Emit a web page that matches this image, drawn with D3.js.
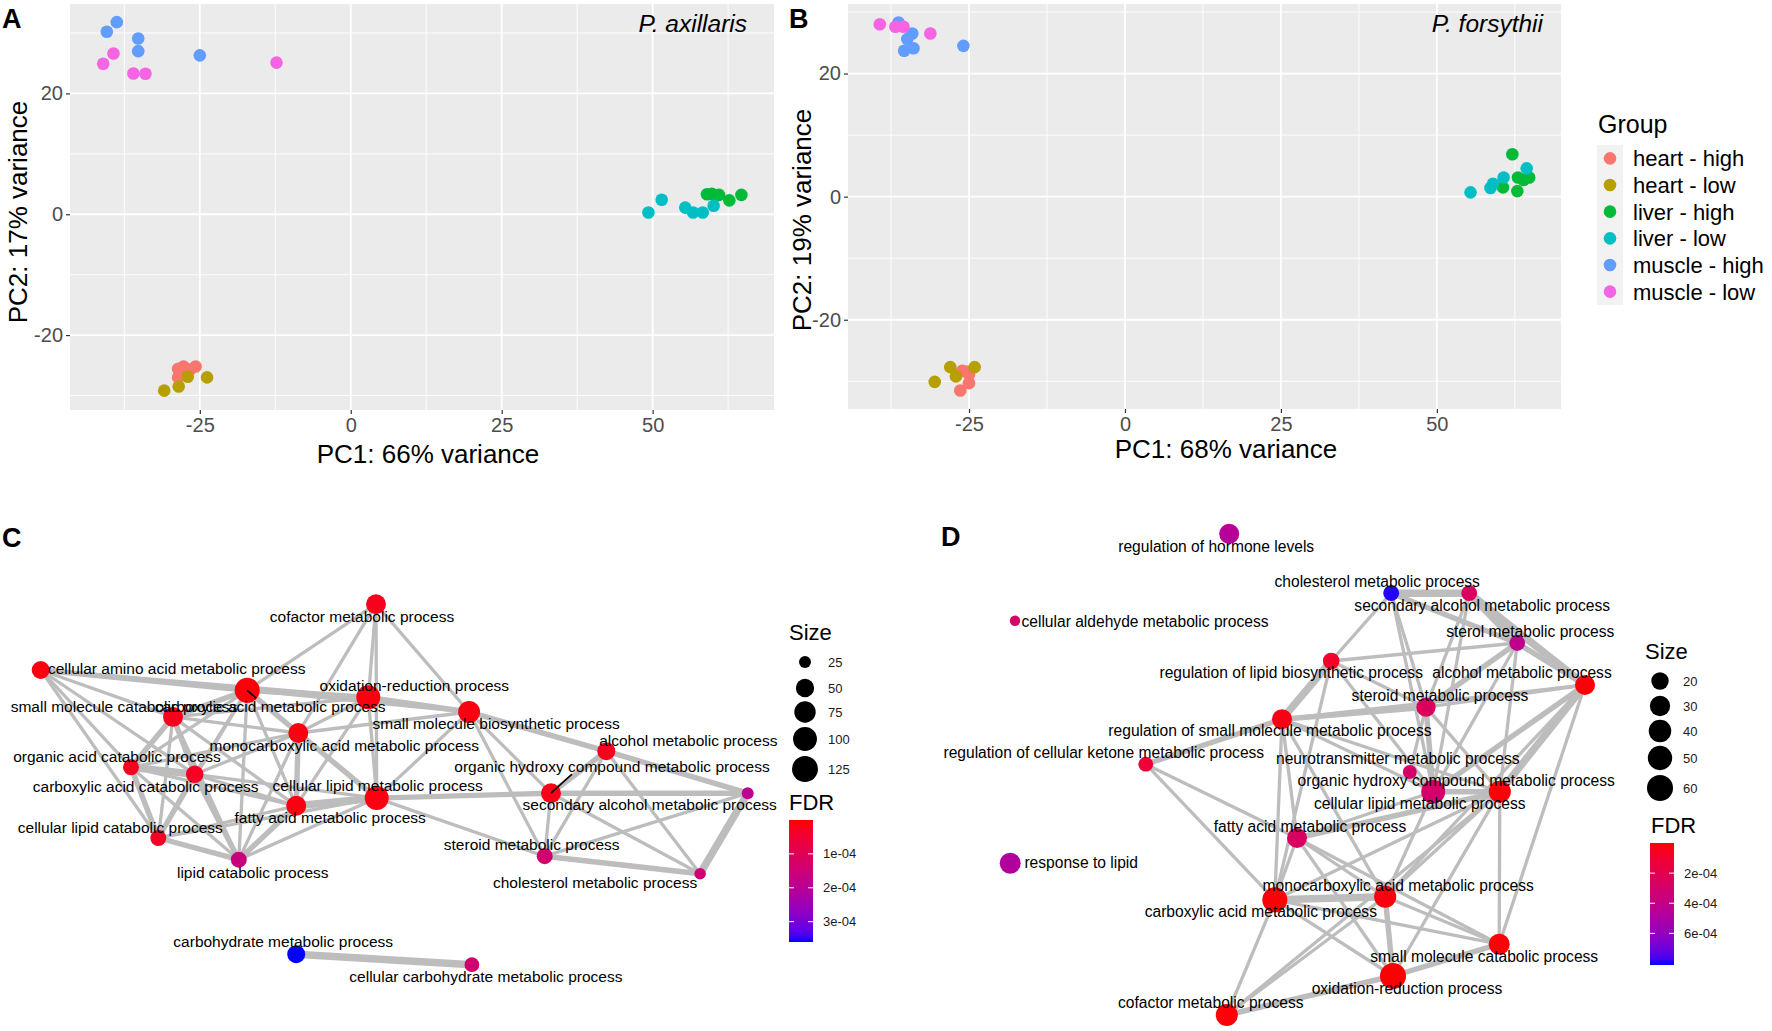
<!DOCTYPE html>
<html><head><meta charset="utf-8">
<script src="https://cdn.jsdelivr.net/npm/d3@7"></script>
<style>
html,body{margin:0;padding:0;background:#fff;}
svg text{font-family:"Liberation Sans",Arial,sans-serif;}
</style></head>
<body>
<svg id="fig" width="1772" height="1031"></svg>
<script>
// ---------------- DATA ----------------
const groups = ["heart - high","heart - low","liver - high","liver - low","muscle - high","muscle - low"];
const groupColors = ["#F8766D","#B79F00","#00BA38","#00BFC4","#619CFF","#F564E3"];

// [PC1, PC2, group index]
const axillarisPoints = [
  [-28.6,-25.6,0],[-27.7,-25.2,0],[-25.7,-25.2,0],[-28.6,-27.0,0],[-28.1,-26.2,0],[-26.6,-25.7,0],
  [-30.9,-29.2,1],[-28.5,-28.5,1],[-27.0,-26.9,1],[-23.8,-27.0,1],
  [59.0,3.3,2],[59.8,3.4,2],[61.0,3.2,2],[62.7,2.3,2],[64.7,3.2,2],[60.5,3.1,2],
  [49.3,0.3,3],[51.5,2.4,3],[55.4,1.1,3],[56.7,0.3,3],[58.3,0.3,3],[60.1,1.4,3],
  [-40.4,30.2,4],[-38.75,31.8,4],[-35.2,29.1,4],[-35.2,27.0,4],[-25.0,26.3,4],
  [-41.0,24.9,5],[-39.3,26.6,5],[-36.0,23.3,5],[-34.0,23.25,5],[-12.3,25.1,5]
];
const forsythiiPoints = [
  [-26.1,-28.3,0],[-25.0,-28.9,0],[-26.4,-31.5,0],[-25.0,-30.3,0],[-25.4,-28.4,0],
  [-28.0,-27.7,1],[-24.1,-27.7,1],[-30.5,-30.1,1],[-27.1,-29.2,1],
  [62.1,6.9,2],[63.0,3.1,2],[63.9,2.7,2],[64.8,3.1,2],[60.6,1.5,2],[62.9,0.9,2],
  [55.4,0.7,3],[58.6,1.4,3],[59.0,2.1,3],[60.7,3.1,3],[64.4,4.6,3],
  [-36.3,28.3,4],[-34.1,26.5,4],[-34.9,25.6,4],[-35.4,23.7,4],[-33.9,24.1,4],[-25.9,24.5,4],
  [-39.3,28.0,5],[-36.8,27.6,5],[-35.5,27.6,5],[-31.2,26.5,5]
];
const pcaXTicks = [-25,0,25,50];
const pcaXMinor = [-37.5,-12.5,12.5,37.5,62.5];
const pcaYTicks = [-20,0,20];
const pcaYMinor = [-30,-10,10,30];

// Network C: id, name, layout x, layout y, gene count (Size), FDR
const netCNodes = [
  ["CF","cofactor metabolic process",48.0,0.6,62,0.2e-4],
  ["AA","cellular amino acid metabolic process",0.1,10.0,48,0.1e-4],
  ["CAM","carboxylic acid metabolic process",29.6,12.9,113,0.05e-4],
  ["OR","oxidation-reduction process",46.9,13.9,101,0.1e-4],
  ["SMC","small molecule catabolic process",19.0,16.7,62,0.2e-4],
  ["MC","monocarboxylic acid metabolic process",36.9,19.0,62,0.1e-4],
  ["OAC","organic acid catabolic process",13.0,23.9,37,0.2e-4],
  ["CAC","carboxylic acid catabolic process",22.1,24.9,45,0.3e-4],
  ["CLM","cellular lipid metabolic process",48.1,28.3,101,0.1e-4],
  ["FA","fatty acid metabolic process",36.6,29.4,62,0.1e-4],
  ["CLC","cellular lipid catabolic process",16.9,34.0,37,0.3e-4],
  ["LC","lipid catabolic process",28.4,37.1,37,1.6e-4],
  ["SMB","small molecule biosynthetic process",61.3,16.0,80,0.1e-4],
  ["AL","alcohol metabolic process",80.9,21.6,48,0.2e-4],
  ["OH","organic hydroxy compound metabolic process",73.0,27.6,62,0.15e-4],
  ["SA","secondary alcohol metabolic process",101.1,27.6,25,1.9e-4],
  ["ST","steroid metabolic process",72.1,36.6,37,1.4e-4],
  ["CH","cholesterol metabolic process",94.3,39.1,24.5,1.5e-4],
  ["CBH","carbohydrate metabolic process",36.6,50.6,48,3.6e-4],
  ["CCBH","cellular carbohydrate metabolic process",61.7,52.1,32,1.4e-4]
];
// [source, target, similarity weight]
const netCEdges = [
  ["CF","CAM",1],["CF","MC",1],["CF","OR",1],["CF","CLM",1],["CF","SMB",1],
  ["AA","CAM",2],["AA","OR",1],["AA","SMC",1],["AA","OAC",1],["AA","CAC",1],["AA","CLC",1],
  ["CAM","SMC",2],["CAM","MC",2],["CAM","OAC",1],["CAM","CAC",1],["CAM","CLM",1],["CAM","FA",1],["CAM","CLC",1],["CAM","LC",1],["CAM","OR",2],["CAM","SMB",1],
  ["OR","MC",1],["OR","SMB",2],["OR","CLM",1],["OR","FA",1],["OR","SMC",1],
  ["SMC","OAC",2],["SMC","CAC",2],["SMC","CLC",1],["SMC","LC",1],["SMC","MC",1],["SMC","FA",1],
  ["MC","FA",2],["MC","CLM",2],["MC","OAC",1],["MC","CAC",1],["MC","SMB",1],["MC","LC",1],
  ["OAC","CAC",3],["OAC","CLC",2],["OAC","LC",1],["OAC","FA",1],
  ["CAC","CLC",2],["CAC","LC",2],["CAC","FA",1],["CAC","CLM",1],
  ["CLM","FA",3],["CLM","LC",1],["CLM","CLC",1],["CLM","SMB",1],["CLM","OH",2],["CLM","ST",1],
  ["FA","LC",2],["FA","CLC",1],["CLC","LC",2],
  ["SMB","AL",2],["SMB","OH",1],["SMB","ST",1],
  ["AL","OH",2],["AL","SA",2],["AL","ST",1],["AL","CH",1],
  ["OH","SA",2],["OH","ST",1],["OH","CH",1],
  ["SA","CH",3],["SA","ST",1],["ST","CH",2],
  ["CBH","CCBH",3]
];
const sizeBreaksC = [25,50,75,100,125];
const fdrTicksC = [1e-4,2e-4,3e-4];

// Network D
const netDNodes = [
  ["HOR","regulation of hormone levels",38.2,2.3,29,4.6e-4],
  ["CH","cholesterol metabolic process",65.2,12.2,16,8.0e-4],
  ["SA","secondary alcohol metabolic process",78.2,12.2,16,2.6e-4],
  ["ALD","cellular aldehyde metabolic process",2.5,16.8,10,2.8e-4],
  ["SL","sterol metabolic process",86.2,20.5,16,4.2e-4],
  ["RLB","regulation of lipid biosynthetic process",55.2,23.5,18,0.8e-4],
  ["AL","alcohol metabolic process",97.5,27.5,29,0.1e-4],
  ["ST","steroid metabolic process",71.0,31.2,26,2.5e-4],
  ["RSM","regulation of small molecule metabolic process",47.0,33.2,29,0.3e-4],
  ["RCK","regulation of cellular ketone metabolic process",24.3,40.7,14,1.2e-4],
  ["NT","neurotransmitter metabolic process",68.3,42.0,12.6,3.0e-4],
  ["OH","organic hydroxy compound metabolic process",72.2,45.3,48,3.0e-4],
  ["CLM","cellular lipid metabolic process",83.3,45.3,38,0.1e-4],
  ["FA","fatty acid metabolic process",49.5,53.0,29,2.6e-4],
  ["RL","response to lipid",1.7,57.2,33,4.8e-4],
  ["MC","monocarboxylic acid metabolic process",64.2,62.8,38,0.2e-4],
  ["CAM","carboxylic acid metabolic process",45.8,63.3,54,0.1e-4],
  ["SMC","small molecule catabolic process",83.2,70.7,33,0.1e-4],
  ["OR","oxidation-reduction process",65.5,76.0,60,0.05e-4],
  ["CF","cofactor metabolic process",37.8,82.5,38,0.1e-4]
];
const netDEdges = [
  ["CH","SA",3],["CH","SL",2],["SA","SL",3],["SA","AL",3],["SL","AL",2],["CH","ST",1],["SA","ST",1],["SL","ST",2],
  ["SL","OH",1],["SL","CLM",1],["CH","RLB",1],["CH","OH",1],["SA","OH",1],
  ["RLB","RSM",3],["RLB","ST",1],["RLB","SL",1],["RLB","CAM",1],["RLB","OH",1],
  ["RSM","RCK",2],["RSM","ST",2],["RSM","CLM",1],["RSM","OH",1],["RSM","CAM",1],["RSM","MC",1],["RSM","FA",1],["RSM","AL",1],
  ["RCK","CAM",1],["RCK","FA",1],
  ["AL","OH",2],["AL","CLM",3],["AL","ST",1],["AL","SMC",1],["AL","MC",1],
  ["ST","OH",2],["ST","CLM",1],["ST","NT",1],["NT","OH",1],
  ["OH","CLM",2],["OH","FA",1],["OH","MC",1],
  ["CLM","FA",2],["CLM","MC",1],["CLM","CAM",1],["CLM","SMC",1],["CLM","OR",1],
  ["FA","MC",1],["FA","CAM",1],["FA","SMC",1],["FA","OR",1],
  ["MC","CAM",3],["MC","SMC",1],["MC","OR",2],
  ["CAM","SMC",1],["CAM","OR",1],["CAM","CF",1],
  ["SMC","OR",2],["OR","CF",2],["CF","MC",1],["CF","CLM",1]
];
const sizeBreaksD = [20,30,40,50,60];
const fdrTicksD = [2e-4,4e-4,6e-4];

// ---------------- LAYOUT / STYLE CONFIG ----------------
// label placement (repel result) relative to node centre: [dx, dy(baseline)]
const labelOffC = {CF:[-14,18],AA:[136,4],CAM:[23,22],OR:[46,-6],SMC:[-49,-5],MC:[46,18],OAC:[-14,-5],CAC:[-49,18],
  CLM:[1,-7],FA:[34,17],CLC:[-38,-5],LC:[14,18],SMB:[27,17],AL:[82,-5],OH:[61,-21],SA:[-98,17],ST:[-13,-6],CH:[-105,14],CBH:[-13,-7],CCBH:[14,17]};
const segC = {CAM:[9,8], OH:[21,-19]};
const labelOffD = {HOR:[-13,18],CH:[-14,-6],SA:[13,18],ALD:[130,6],SL:[13,-6],RLB:[-40,17],AL:[-63,-7],ST:[14,-6],RSM:[-12,17],
  RCK:[-42,-6],NT:[-12,-8],OH:[23,-6],CLM:[-80,17],FA:[13,-6],RL:[71,5],MC:[13,-6],CAM:[-14,17],SMC:[-15,18],OR:[14,18],CF:[-16,-7]};

const svg = d3.select("#fig");
const FONT = '"Liberation Sans",Arial,sans-serif';
const plainNum = d => String(d);

// ---------------- PCA PANELS ----------------
function pcaPanel(points, cfg){
  const x = d3.scaleLinear().domain(cfg.xDomain).range([cfg.left, cfg.right]);
  const y = d3.scaleLinear().domain(cfg.yDomain).range([cfg.bottom, cfg.top]);
  const g = svg.append("g");
  g.append("rect").attr("x",cfg.left).attr("y",cfg.top).attr("width",cfg.right-cfg.left).attr("height",cfg.bottom-cfg.top).attr("fill","#EBEBEB");
  g.selectAll(".vminor").data(pcaXMinor).join("line").attr("x1",d=>x(d)).attr("x2",d=>x(d)).attr("y1",cfg.top).attr("y2",cfg.bottom).attr("stroke","#fff").attr("stroke-width",0.9);
  g.selectAll(".hminor").data(pcaYMinor).join("line").attr("y1",d=>y(d)).attr("y2",d=>y(d)).attr("x1",cfg.left).attr("x2",cfg.right).attr("stroke","#fff").attr("stroke-width",0.9);
  g.selectAll(".vmajor").data(pcaXTicks).join("line").attr("x1",d=>x(d)).attr("x2",d=>x(d)).attr("y1",cfg.top).attr("y2",cfg.bottom).attr("stroke","#fff").attr("stroke-width",1.8);
  g.selectAll(".hmajor").data(pcaYTicks).join("line").attr("y1",d=>y(d)).attr("y2",d=>y(d)).attr("x1",cfg.left).attr("x2",cfg.right).attr("stroke","#fff").attr("stroke-width",1.8);
  g.selectAll("circle.pt").data(points).join("circle").attr("class","pt")
    .attr("cx",d=>x(d[0])).attr("cy",d=>y(d[1])).attr("r",6.3).attr("fill",d=>groupColors[d[2]]);
  const ax = g.append("g").attr("transform",`translate(0,${cfg.bottom})`)
    .call(d3.axisBottom(x).tickValues(pcaXTicks).tickSize(4).tickPadding(4).tickFormat(plainNum));
  const ay = g.append("g").attr("transform",`translate(${cfg.left},0)`)
    .call(d3.axisLeft(y).tickValues(pcaYTicks).tickSize(4).tickPadding(3).tickFormat(plainNum));
  [ax,ay].forEach(a=>{
    a.select(".domain").remove();
    a.selectAll("line").attr("stroke","#333").attr("stroke-width",1.2);
    a.selectAll("text").attr("fill","#4D4D4D").style("font-size","20px").style("font-family",FONT);
  });
  g.append("text").attr("x",cfg.xTitleX).attr("y",cfg.xTitleY).attr("text-anchor","middle").style("font-size","26px").attr("fill","#000").text(cfg.xTitle);
  g.append("text").attr("transform",`translate(${cfg.yTitleX},${cfg.yTitleY}) rotate(-90)`).attr("text-anchor","middle").style("font-size","26px").attr("fill","#000").text(cfg.yTitle);
  g.append("text").attr("x",cfg.right-cfg.spRight).attr("y",32).attr("text-anchor","end").style("font-size","24.5px").style("font-style","italic").attr("fill","#000").text(cfg.species);
  svg.append("text").attr("x",cfg.tagX).attr("y",28).style("font-size","27px").style("font-weight","bold").text(cfg.tag);
}
pcaPanel(axillarisPoints,{xDomain:[-46.5,70.1],yDomain:[-32.4,34.8],left:70,right:774,top:4,bottom:410,
  xTitle:"PC1: 66% variance",xTitleX:428,xTitleY:463,yTitle:"PC2: 17% variance",yTitleX:27,yTitleY:212,
  species:"P. axillaris",spRight:27,tag:"A",tagX:2});
pcaPanel(forsythiiPoints,{xDomain:[-44.4,69.9],yDomain:[-34.5,31.3],left:848,right:1561,top:4,bottom:409,
  xTitle:"PC1: 68% variance",xTitleX:1226,xTitleY:458,yTitle:"PC2: 19% variance",yTitleX:811,yTitleY:220,
  species:"P. forsythii",spRight:18,tag:"B",tagX:789});

// Group legend
(function(){
  const g = svg.append("g");
  g.append("text").attr("x",1598).attr("y",133).style("font-size","25px").text("Group");
  const ky = d3.scaleBand().domain(groups).range([145,305]);
  g.append("rect").attr("x",1597).attr("y",145).attr("width",26).attr("height",160).attr("fill","#F2F2F2");
  g.selectAll("circle").data(groups).join("circle").attr("cx",1610).attr("cy",d=>ky(d)+ky.bandwidth()/2).attr("r",6.3).attr("fill",(d,i)=>groupColors[i]);
  g.selectAll("text.lab").data(groups).join("text").attr("class","lab").attr("x",1633).attr("y",d=>ky(d)+ky.bandwidth()/2+8).style("font-size","22px").text(d=>d);
})();

// ---------------- NETWORKS ----------------
function network(nodes, edges, cfg){
  const x = d3.scaleLinear().domain([0,100]).range(cfg.xRange);
  const y = d3.scaleLinear().domain([0,100]).range(cfg.yRange);
  const lin = d3.scaleLinear().domain(cfg.sizeDomain).range([0,1]).clamp(true);
  const rOut = d3.scaleLinear().domain([0,1]).range(cfg.rRange);
  const rScale = v => rOut(Math.sqrt(lin(v)));
  const col = d3.scaleLinear().domain(cfg.fdrDomain).range(["#FF0000","#0000FF"]).interpolate(d3.interpolateLab).clamp(true);
  const w = d3.scaleLinear().domain([1,3]).range([3.3,7.5]);
  const byId = {}; nodes.forEach(n=>byId[n[0]]=n);
  const g = svg.append("g");
  g.selectAll("line.edge").data(edges).join("line").attr("class","edge")
    .attr("x1",d=>x(byId[d[0]][2])).attr("y1",d=>y(byId[d[0]][3]))
    .attr("x2",d=>x(byId[d[1]][2])).attr("y2",d=>y(byId[d[1]][3]))
    .attr("stroke","#BDBDBD").attr("stroke-width",d=>w(d[2]));
  g.selectAll("circle.node").data(nodes).join("circle").attr("class","node")
    .attr("cx",d=>x(d[2])).attr("cy",d=>y(d[3])).attr("r",d=>rScale(d[4])).attr("fill",d=>col(d[5]));
  Object.entries(cfg.seg||{}).forEach(([id,o])=>{
    const n=byId[id];
    g.append("line").attr("x1",x(n[2])).attr("y1",y(n[3])).attr("x2",x(n[2])+o[0]).attr("y2",y(n[3])+o[1]).attr("stroke","#000").attr("stroke-width",1.6);
  });
  g.selectAll("text.lab").data(nodes).join("text").attr("class","lab")
    .attr("x",d=>x(d[2])+cfg.labelOff[d[0]][0]).attr("y",d=>y(d[3])+cfg.labelOff[d[0]][1])
    .attr("text-anchor","middle").style("font-size",cfg.fontSize).attr("fill","#000").text(d=>d[1]);

  // Size legend
  const L = cfg.legend;
  g.append("text").attr("x",L.sizeTitleX).attr("y",L.sizeTitleY).style("font-size","22px").text("Size");
  g.selectAll("circle.leg").data(cfg.sizeBreaks).join("circle").attr("class","leg")
    .attr("cx",L.circX).attr("cy",(d,i)=>L.circY[i]).attr("r",d=>rScale(d)).attr("fill","#000");
  g.selectAll("text.legl").data(cfg.sizeBreaks).join("text").attr("class","legl")
    .attr("x",L.labX).attr("y",(d,i)=>L.circY[i]+4.5).style("font-size","13px").attr("fill","#1A1A1A").text(d=>d);
  // FDR colorbar
  g.append("text").attr("x",L.fdrTitleX).attr("y",L.fdrTitleY).style("font-size","22px").text("FDR");
  const gid = "grad"+cfg.id;
  const grad = svg.append("defs").append("linearGradient").attr("id",gid).attr("x1",0).attr("x2",0).attr("y1",0).attr("y2",1);
  d3.range(0,1.0001,0.05).forEach(t=>{
    grad.append("stop").attr("offset",t).attr("stop-color",col(cfg.fdrDomain[0]+t*(cfg.fdrDomain[1]-cfg.fdrDomain[0])));
  });
  const by = d3.scaleLinear().domain(cfg.fdrDomain).range([L.barTop,L.barBottom]);
  g.append("rect").attr("x",L.barX).attr("y",L.barTop).attr("width",24).attr("height",L.barBottom-L.barTop).attr("fill",`url(#${gid})`);
  cfg.fdrTicks.forEach(t=>{
    g.append("line").attr("x1",L.barX).attr("x2",L.barX+5).attr("y1",by(t)).attr("y2",by(t)).attr("stroke","#fff").attr("stroke-width",1);
    g.append("line").attr("x1",L.barX+19).attr("x2",L.barX+24).attr("y1",by(t)).attr("y2",by(t)).attr("stroke","#fff").attr("stroke-width",1);
    g.append("text").attr("x",L.barX+34).attr("y",by(t)+4.5).style("font-size","13px").attr("fill","#1A1A1A")
      .text(t.toExponential(0).replace(/e([+-])(\d)$/,"e$10$2"));
  });
  svg.append("text").attr("x",cfg.tagX).attr("y",cfg.tagY).style("font-size","27px").style("font-weight","bold").text(cfg.tag);
}

network(netCNodes, netCEdges, {id:"C", xRange:[40,740], yRange:[600,1300], sizeDomain:[24,130], rRange:[5.2,13.16],
  fdrDomain:[0,3.6e-4], labelOff:labelOffC, seg:segC, fontSize:"15.5px", sizeBreaks:sizeBreaksC, fdrTicks:fdrTicksC,
  tag:"C", tagX:2, tagY:547,
  legend:{sizeTitleX:789,sizeTitleY:640,circX:805,circY:[662,688,712,739,769],labX:828,fdrTitleX:789,fdrTitleY:810,barX:789,barTop:820,barBottom:942}});

network(netDNodes, netDEdges, {id:"D", xRange:[1000,1600], yRange:[520,1120], sizeDomain:[10,65], rRange:[5.2,13.4],
  fdrDomain:[0,8.1e-4], labelOff:labelOffD, fontSize:"15.6px", sizeBreaks:sizeBreaksD, fdrTicks:fdrTicksD,
  tag:"D", tagX:941, tagY:546,
  legend:{sizeTitleX:1645,sizeTitleY:659,circX:1660,circY:[681,706,731,758,788],labX:1683,fdrTitleX:1651,fdrTitleY:833,barX:1650,barTop:843,barBottom:965}});
</script>
</body></html>
